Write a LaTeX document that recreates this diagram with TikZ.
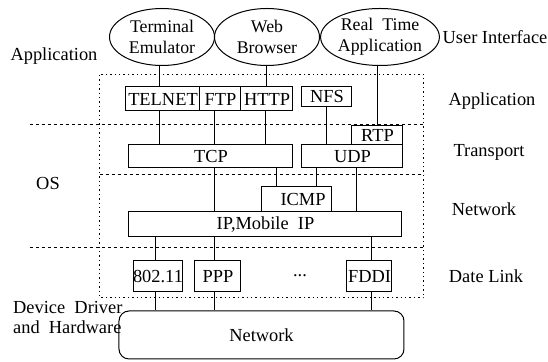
\documentclass[tikz,border=0pt]{standalone}
\usepackage{fontspec}
\setmainfont{Liberation Serif}
\usetikzlibrary{shapes.geometric}

\begin{document}
\begin{tikzpicture}[x=0.5pt,y=-0.5pt,line width=0.5pt,
    font=\fontsize{9.2}{10}\selectfont,
    app/.style={draw,ellipse,inner sep=0pt,minimum width=52.5pt,minimum height=28.5pt,align=center,font=\fontsize{8.9}{10.5}\selectfont},
    proto/.style={draw,rectangle,inner sep=0pt,minimum height=12pt},
    frame/.style={dash pattern=on 0.7pt off 1.5pt},
    sep/.style={dash pattern=on 1.6pt off 1.4pt}]
      \useasboundingbox (0,0) rectangle (548,362);

      % user programs
      \node[app] (term) at (162,37) {Terminal\\Emulator};
      \node[app] (web) at (267,37) {Web\\Browser};
      \node[app,minimum width=54pt] (rt) at (380,37) {Real\ \ Time\\Application};

      % layer frame
      \draw[frame] (100,75) rectangle (424,298);
      \draw[sep] (30,125) -- (424,125);
      \draw[sep] (100,175) -- (424,175);
      \draw[sep] (30,248) -- (424,248);

      % protocols
      \node[proto,minimum width=37pt] (telnet) at (163,99) {TELNET};
      \node[proto,minimum width=20.5pt] (ftp) at (220.5,99) {FTP};
      \node[proto,minimum width=26pt] (http) at (267,99) {HTTP};
      \node[proto,minimum width=25pt,minimum height=10pt] (nfs) at (327,97) {NFS};
      \node[proto,minimum width=25.5pt,minimum height=9.5pt] (rtp) at (377.5,135.5) {RTP};
      \node[proto,minimum width=82pt,minimum height=11.5pt] (tcp) at (211,156.5) {TCP};
      \node[proto,minimum width=50.5pt,minimum height=11.5pt] (udp) at (352.5,156.5) {UDP};
      \node[proto,minimum width=35pt,minimum height=12.5pt] (icmp) at (297,199.5) {\hspace{6pt}ICMP};
      \node[proto,minimum width=136.5pt,minimum height=12.5pt] (ip) at (265.5,224.5) {IP,Mobile\ \ IP};
      \node[proto,minimum width=23pt,minimum height=15.5pt] (wlan) at (158,276.5) {802.11};
      \node[proto,minimum width=23pt,minimum height=15.5pt] (ppp) at (218,276.5) {PPP};
      \node[proto,minimum width=22.5pt,minimum height=15.5pt] (fddi) at (369.5,276.5) {FDDI};
      \node (more) at (300,276) {...};
      \node[draw,rounded corners=5pt,minimum width=142.5pt,minimum height=24pt] (net) at (261.5,335) {Network};

      % connections
      \foreach \a/\b/\x in {term/telnet/160,web/http/267,rt/rtp/378,
          telnet/tcp/160,ftp/tcp/215,http/tcp/266,nfs/udp/327,
          tcp/ip/215,tcp/icmp/277,udp/icmp/317,udp/ip/357,
          ip/wlan/156,ip/ppp/215,ip/fddi/372,
          wlan/net/156,ppp/net/215,fddi/net/372}
        \draw (\x,0 |- \a.south) -- (\x,0 |- \b.north);

      % layer names
      \node (lapp) at (54,56) {Application};
      \node (los) at (48,184) {OS};
      \node[anchor=west,align=left,font=\fontsize{9.2}{10}\selectfont] (ldev) at (6,318) {Device\ \ Driver\\and\ \ Hardware};
      \node (rui) at (495,37) {User Interface};
      \node (rapp) at (492,101) {Application};
      \node (rtrans) at (489,152) {Transport};
      \node (rnet) at (484,209) {Network};
      \node (rlink) at (486,276) {Date Link};
\end{tikzpicture}
\end{document}
